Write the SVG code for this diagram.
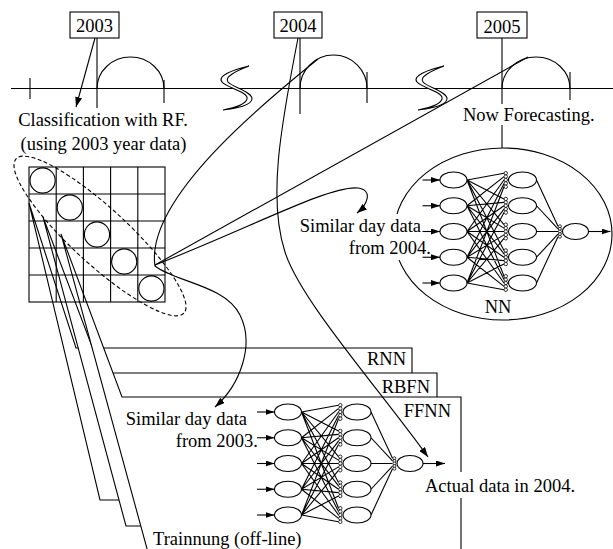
<svg xmlns="http://www.w3.org/2000/svg" width="613" height="549" viewBox="0 0 613 549">
<defs>
<style>
.ln{fill:none;stroke:#000;stroke-width:1.1}
.pg{fill:#fff;stroke:#000;stroke-width:1.1}
.box{fill:#fff;stroke:#000;stroke-width:1.1}
.node{fill:#fff;stroke:#000;stroke-width:1.1}
.syn{fill:#fff;stroke:#000;stroke-width:0.8}
.bg{fill:#fff;stroke:none}
.brk{fill:#fff;stroke:#000;stroke-width:1.1;stroke-linejoin:miter}
.dash{fill:none;stroke:#000;stroke-width:1.1;stroke-dasharray:4 2.5}
text{font-family:"Liberation Serif","Times New Roman",serif;font-size:18.5px;fill:#000}
.mid{text-anchor:middle}
.end{text-anchor:end}
</style>
<marker id="ah" viewBox="0 0 10 7" refX="10" refY="3.5" markerWidth="10" markerHeight="7" markerUnits="userSpaceOnUse" orient="auto"><path d="M0,0 L10,3.5 L0,7 z"/></marker>
<marker id="ahs" viewBox="0 0 9 6" refX="9" refY="3" markerWidth="9" markerHeight="6" markerUnits="userSpaceOnUse" orient="auto"><path d="M0,0 L9,3 L0,6 z"/></marker>
<!-- axis break: thin S-shaped lens -->
<path id="brk" d="M249,66 C232,70 217,76 222,82 C227,88 249,92 247,99 C245,105 234,108 223,110 C236,108 251,106 252,99 C253,92 232,87 228,82 C224,77 236,71 249,66 z"/>
<!-- three-layer network: 5 inputs, 5 hidden, 1 output -->
<g id="nn">
 <path class="ln" d="M13.5,0 L50.5,-6.8 M13.5,0 L50.5,18.95 M13.5,0 L50.5,44.7 M13.5,0 L50.5,70.45 M13.5,0 L50.5,96.2
 M13.5,25.75 L50.5,-3.4 M13.5,25.75 L50.5,22.35 M13.5,25.75 L50.5,48.1 M13.5,25.75 L50.5,73.85 M13.5,25.75 L50.5,99.6
 M13.5,51.5 L50.5,0 M13.5,51.5 L50.5,25.75 M13.5,51.5 L50.5,51.5 M13.5,51.5 L50.5,77.25 M13.5,51.5 L50.5,103
 M13.5,77.25 L50.5,3.4 M13.5,77.25 L50.5,29.15 M13.5,77.25 L50.5,54.9 M13.5,77.25 L50.5,80.65 M13.5,77.25 L50.5,106.4
 M13.5,103 L50.5,6.8 M13.5,103 L50.5,32.55 M13.5,103 L50.5,58.3 M13.5,103 L50.5,84.05 M13.5,103 L50.5,109.8
 M83,0 L104.5,46.3 M83,25.75 L104.5,48.9 M83,51.5 L104.5,51.5 M83,77.25 L104.5,54.1 M83,103 L104.5,56.7"/>
 <g class="ln" marker-end="url(#ahs)">
  <line x1="-31" y1="0" x2="-13.5" y2="0"/>
  <line x1="-31" y1="25.75" x2="-13.5" y2="25.75"/>
  <line x1="-31" y1="51.5" x2="-13.5" y2="51.5"/>
  <line x1="-31" y1="77.25" x2="-13.5" y2="77.25"/>
  <line x1="-31" y1="103" x2="-13.5" y2="103"/>
  <line x1="135" y1="51.5" x2="157" y2="51.5"/>
 </g>
 <g class="node">
  <ellipse cx="0" cy="0" rx="13.5" ry="8"/>
  <ellipse cx="0" cy="25.75" rx="13.5" ry="8"/>
  <ellipse cx="0" cy="51.5" rx="13.5" ry="8"/>
  <ellipse cx="0" cy="77.25" rx="13.5" ry="8"/>
  <ellipse cx="0" cy="103" rx="13.5" ry="8"/>
  <ellipse cx="69" cy="0" rx="14" ry="8"/>
  <ellipse cx="69" cy="25.75" rx="14" ry="8"/>
  <ellipse cx="69" cy="51.5" rx="14" ry="8"/>
  <ellipse cx="69" cy="77.25" rx="14" ry="8"/>
  <ellipse cx="69" cy="103" rx="14" ry="8"/>
  <ellipse cx="122" cy="51.5" rx="13" ry="8"/>
 </g>
 <g class="syn">
  <circle cx="52.3" cy="-6.8" r="1.7"/><circle cx="52.3" cy="-3.4" r="1.7"/><circle cx="52.3" cy="0" r="1.7"/><circle cx="52.3" cy="3.4" r="1.7"/><circle cx="52.3" cy="6.8" r="1.7"/>
  <circle cx="52.3" cy="18.95" r="1.7"/><circle cx="52.3" cy="22.35" r="1.7"/><circle cx="52.3" cy="25.75" r="1.7"/><circle cx="52.3" cy="29.15" r="1.7"/><circle cx="52.3" cy="32.55" r="1.7"/>
  <circle cx="52.3" cy="44.7" r="1.7"/><circle cx="52.3" cy="48.1" r="1.7"/><circle cx="52.3" cy="51.5" r="1.7"/><circle cx="52.3" cy="54.9" r="1.7"/><circle cx="52.3" cy="58.3" r="1.7"/>
  <circle cx="52.3" cy="70.45" r="1.7"/><circle cx="52.3" cy="73.85" r="1.7"/><circle cx="52.3" cy="77.25" r="1.7"/><circle cx="52.3" cy="80.65" r="1.7"/><circle cx="52.3" cy="84.05" r="1.7"/>
  <circle cx="52.3" cy="96.2" r="1.7"/><circle cx="52.3" cy="99.6" r="1.7"/><circle cx="52.3" cy="103" r="1.7"/><circle cx="52.3" cy="106.4" r="1.7"/><circle cx="52.3" cy="109.8" r="1.7"/>
  <circle cx="106.4" cy="46.3" r="1.5"/><circle cx="106.4" cy="48.9" r="1.5"/><circle cx="106.4" cy="51.5" r="1.5"/><circle cx="106.4" cy="54.1" r="1.5"/><circle cx="106.4" cy="56.7" r="1.5"/>
 </g>
</g>
</defs>

<rect width="613" height="549" fill="#fff"/>

<!-- stacked model sheets, back to front, each projected from a grid cell -->
<g id="sheet-rnn">
 <polygon class="pg" points="29,203 76,348 412,348 412,500 100,500"/>
 <text class="end" x="406" y="365">RNN</text>
</g>
<g id="sheet-rbfn">
 <polygon class="pg" points="43,217 102,373 437,373 437,526 126,526"/>
 <text class="end" x="430" y="393">RBFN</text>
</g>
<g id="sheet-ffnn">
 <polygon class="pg" points="61,234 122,397 461,397 461,556 149,556"/>
 <text class="end" x="451" y="417">FFNN</text>
</g>

<!-- classification grid -->
<g id="grid">
 <rect class="ln" x="29" y="167" width="136" height="135"/>
 <path class="ln" d="M56.2,167 V302 M83.4,167 V302 M110.6,167 V302 M137.8,167 V302 M29,194 H165 M29,221 H165 M29,248 H165 M29,275 H165"/>
 <g class="ln">
  <circle cx="42.6" cy="180.5" r="12.6"/>
  <circle cx="69.8" cy="207.5" r="12.6"/>
  <circle cx="97" cy="234.5" r="12.6"/>
  <circle cx="124.2" cy="261.5" r="12.6"/>
  <circle cx="151.4" cy="288.5" r="12.6"/>
 </g>
 <ellipse class="dash" cx="100" cy="236" rx="114" ry="28" transform="rotate(42.6 100 236)"/>
</g>

<!-- time axis -->
<g id="timeline">
 <path class="ln" d="M11,88.5 H613 M30,78 V99 M97,38 V108 M164,80 V103 M300,37 V114 M367,72 V103 M502,38 V148 M570,72 V100"/>
 <path class="ln" d="M97,88.5 A33.5,31.5 0 0 1 164,88.5 M300,88.5 A33.5,33.5 0 0 1 367,88.5 M502,88.5 A34,31.5 0 0 1 570,88.5"/>
 <use href="#brk" class="brk"/>
 <use href="#brk" class="brk" transform="translate(195,0)"/>
</g>

<g id="year-2003">
 <rect class="box" x="70" y="12" width="49" height="26"/>
 <text class="mid" x="94.5" y="32">2003</text>
</g>
<g id="year-2004">
 <rect class="box" x="274" y="12" width="48" height="26"/>
 <text class="mid" x="298" y="32">2004</text>
</g>
<g id="year-2005">
 <rect class="box" x="477" y="12" width="50" height="26"/>
 <text class="mid" x="502" y="33">2005</text>
</g>

<!-- on-line forecasting network -->
<g id="nn-online">
 <ellipse class="ln" cx="503" cy="234" rx="109" ry="86"/>
 <text class="mid" x="498" y="313">NN</text>
</g>

<g id="label-classification">
 <text class="mid" x="103" y="126">Classification with RF.</text>
 <text class="mid" x="103.5" y="150">(using 2003 year data)</text>
</g>
<g id="label-now">
 <rect class="bg" x="461" y="104" width="139" height="21"/>
 <text x="463" y="121">Now Forecasting.</text>
</g>
<g id="label-similar-2004">
 <rect class="bg" x="296" y="214" width="125" height="22"/>
 <rect class="bg" x="347" y="234" width="84" height="26"/>
 <text class="end" x="421" y="232">Similar day data</text>
 <text class="end" x="431" y="254">from 2004.</text>
</g>
<g id="label-similar-2003">
 <text class="end" x="247" y="425">Similar day data</text>
 <text class="end" x="258" y="447">from 2003.</text>
</g>
<g id="label-actual">
 <rect class="bg" x="423" y="472" width="156" height="26"/>
 <text x="425" y="492">Actual data in 2004.</text>
</g>
<g id="label-training">
 <text x="153" y="545">Trainnung (off-line)</text>
</g>

<g id="nn-top"><use href="#nn" transform="translate(453.5,180)"/></g>
<g id="nn-bottom"><use href="#nn" transform="translate(288,412)"/></g>

<!-- connectors -->
<g id="connectors" class="ln">
 <path d="M95,38 L76,107" marker-end="url(#ah)"/>
 <path d="M298,38 C280,130 268,200 285,252 C300,300 380,390 428,457" marker-end="url(#ah)"/>
 <path d="M318,59 C262,104 145,200 155,266 C175,282 225,285 240,315 C255,345 240,385 215,407" marker-end="url(#ah)"/>
 <path d="M155,265 L528,57"/>
 <path d="M155,265 C250,228 330,185 358,188 C373,190 368,204 357,213" marker-end="url(#ah)"/>
</g>
</svg>
